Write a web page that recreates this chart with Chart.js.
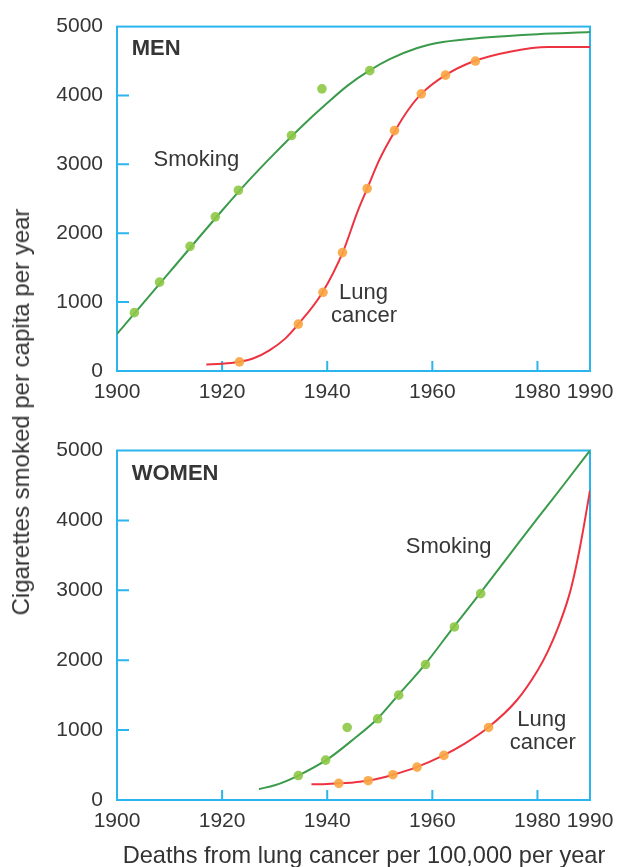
<!DOCTYPE html>
<html>
<head>
<meta charset="utf-8">
<script src="https://cdn.jsdelivr.net/npm/chart.js@4/dist/chart.umd.min.js"></script>
<style>
  html, body { margin: 0; padding: 0; background: #fff; width: 635px; height: 867px; overflow: hidden;
    font-family: "Liberation Sans", Arial, sans-serif; }
  .panel { position: absolute; left: 0; width: 635px; }
  #topPanel { top: 0; height: 420px; }
  #bottomPanel { top: 420px; height: 447px; }
  .ytitle { position: absolute; left: 21px; top: 412px; transform: translate(-50%, -50%) rotate(-90deg);
    white-space: nowrap; font-size: 24px; color: #333; }
  .xtitle { position: absolute; left: 364px; top: 855px; transform: translate(-50%, -50%);
    white-space: nowrap; font-size: 23.6px; color: #333; }
</style>
</head>
<body>
<div class="panel" id="topPanel"><canvas id="men"></canvas></div>
<div class="panel" id="bottomPanel"><canvas id="women"></canvas></div>
<div class="ytitle">Cigarettes smoked per capita per year</div>
<div class="xtitle">Deaths from lung cancer per 100,000 per year</div>
<script>
// Axis ticks
const xTickYears = [1900, 1920, 1940, 1960, 1980, 1990];
const xInnerTicks = [1920, 1940, 1960, 1980];
const yTickValues = [0, 1000, 2000, 3000, 4000, 5000];
const yInnerTicks = [1000, 2000, 3000, 4000];

// MEN: fitted smoking curve
const menSmokingFitYears = [1900, 1910, 1920, 1925, 1930, 1935, 1940, 1944, 1948, 1952, 1957, 1962, 1970, 1980, 1990];
const menSmokingFit      = [538, 1435, 2330, 2760, 3160, 3540, 3890, 4150, 4360, 4530, 4685, 4775, 4840, 4890, 4920];
// MEN: observed smoking points
const menSmokingObsYears = [1903.3, 1908.1, 1913.9, 1918.7, 1923.1, 1933.2, 1939.0, 1948.1];
const menSmokingObs      = [847, 1290, 1810, 2238, 2624, 3419, 4096, 4361];
// MEN: fitted lung cancer curve
const menCancerFitYears = [1917, 1920, 1923, 1926, 1929, 1932, 1934.5, 1939, 1943, 1945.7, 1947.6, 1950, 1953, 1955.5, 1958, 1962.5, 1968, 1975, 1982, 1990];
const menCancerFit      = [95, 105, 130, 185, 300, 470, 680, 1130, 1730, 2300, 2648, 3080, 3500, 3800, 4030, 4295, 4500, 4640, 4705, 4705];
// MEN: observed lung cancer points
const menCancerObsYears = [1923.3, 1934.5, 1939.2, 1942.9, 1947.6, 1952.8, 1957.9, 1962.5, 1968.2];
const menCancerObs      = [133, 681, 1143, 1719, 2648, 3490, 4024, 4295, 4500];

// WOMEN: fitted smoking curve
const womenSmokingFitYears = [1927, 1930, 1934.5, 1940, 1945, 1949.5, 1953.5, 1958.5, 1964, 1969, 1975, 1980, 1985, 1990];
const womenSmokingFit      = [157, 210, 350, 580, 870, 1160, 1500, 1930, 2470, 2950, 3540, 4030, 4510, 5000];
// WOMEN: observed smoking points
const womenSmokingObsYears = [1934.5, 1939.7, 1943.8, 1949.6, 1953.6, 1958.7, 1964.2, 1969.2];
const womenSmokingObs      = [350, 571, 1038, 1162, 1500, 1938, 2476, 2952];
// WOMEN: fitted lung cancer curve
const womenCancerFitYears = [1937, 1940, 1942, 1945, 1948, 1952.5, 1957, 1962, 1966, 1970.5, 1976, 1980, 1982, 1984, 1986, 1987, 1988, 1989, 1990];
const womenCancerFit      = [225, 230, 238, 252, 278, 360, 470, 635, 800, 1030, 1420, 1850, 2130, 2480, 2920, 3220, 3580, 3990, 4430];
// WOMEN: observed lung cancer points
const womenCancerObsYears = [1942.2, 1947.8, 1952.5, 1957.1, 1962.2, 1970.7];
const womenCancerObs      = [238, 276, 362, 471, 638, 1038];

const FRAME = '#2bb5ee';
const TEXT = '#363636';
const FONT = '"Liberation Sans", Arial, sans-serif';

function pts(xs, ys) { return xs.map((x, i) => ({ x: x, y: ys[i] })); }

function fitLine(xs, ys, color) {
  return { data: pts(xs, ys), showLine: true, borderColor: color, borderWidth: 2,
    pointRadius: 0, cubicInterpolationMode: 'monotone', fill: false, order: 2 };
}
function dots(xs, ys, color) {
  return { data: pts(xs, ys), showLine: false, pointRadius: 4.8, pointBackgroundColor: color,
    pointBorderWidth: 0, order: 1 };
}

// Plot frame plus inward tick marks
const framePlugin = {
  id: 'frame',
  beforeDatasetsDraw(chart) {
    const { ctx, chartArea: a, scales: { x, y } } = chart;
    ctx.save();
    ctx.strokeStyle = FRAME;
    ctx.lineWidth = 2;
    ctx.strokeRect(a.left, a.top, a.right - a.left, a.bottom - a.top);
    ctx.beginPath();
    xInnerTicks.forEach(v => { const px = x.getPixelForValue(v); ctx.moveTo(px, a.bottom); ctx.lineTo(px, a.bottom - 10); });
    yInnerTicks.forEach(v => { const py = y.getPixelForValue(v); ctx.moveTo(a.left, py); ctx.lineTo(a.left + 12, py); });
    ctx.stroke();
    ctx.restore();
  }
};

// In-plot text labels, positioned in data coordinates
const notesPlugin = {
  id: 'notes',
  afterDatasetsDraw(chart, args, opts) {
    const { ctx, scales: { x, y } } = chart;
    ctx.save();
    ctx.fillStyle = TEXT;
    ctx.textBaseline = 'middle';
    (opts.items || []).forEach(n => {
      ctx.font = (n.bold ? 'bold ' : '') + n.size + 'px ' + FONT;
      ctx.textAlign = n.align || 'center';
      ctx.fillText(n.text, x.getPixelForValue(n.x), y.getPixelForValue(n.y));
    });
    ctx.restore();
  }
};

function makePanel(id, datasets, notes, padTop, xAxisHeight) {
  return new Chart(document.getElementById(id), {
    type: 'scatter',
    data: { datasets: datasets },
    plugins: [framePlugin, notesPlugin],
    options: {
      responsive: true, maintainAspectRatio: false, animation: false,
      layout: { padding: { top: padTop, right: 45, left: 0, bottom: 0 } },
      plugins: { legend: { display: false }, tooltip: { enabled: false }, notes: { items: notes } },
      scales: {
        x: {
          type: 'linear', min: 1900, max: 1990,
          afterBuildTicks: s => { s.ticks = xTickYears.map(v => ({ value: v })); },
          afterFit: s => { s.height = xAxisHeight; },
          grid: { display: false, drawTicks: false }, border: { display: false },
          ticks: { autoSkip: false, maxRotation: 0, padding: 9, color: TEXT,
            font: { family: FONT, size: 21 }, callback: v => String(v) }
        },
        y: {
          type: 'linear', min: 0, max: 5000,
          afterBuildTicks: s => { s.ticks = yTickValues.map(v => ({ value: v })); },
          afterFit: s => { s.width = 117; },
          grid: { display: false, drawTicks: false }, border: { display: false },
          ticks: { padding: 14, color: TEXT, font: { family: FONT, size: 21 }, callback: v => String(v) }
        }
      }
    }
  });
}

const GREEN_LINE = '#3b9b4b';
const RED_LINE = '#ee3340';
const GREEN_DOT = 'rgba(141,200,70,0.9)';
const ORANGE_DOT = 'rgba(250,165,65,0.9)';

makePanel('men', [
  fitLine(menSmokingFitYears, menSmokingFit, GREEN_LINE),
  fitLine(menCancerFitYears, menCancerFit, RED_LINE),
  dots(menSmokingObsYears, menSmokingObs, GREEN_DOT),
  dots(menCancerObsYears, menCancerObs, ORANGE_DOT)
], [
  { text: 'MEN', x: 1902.8, y: 4682, size: 22, bold: true, align: 'left' },
  { text: 'Smoking', x: 1915.1, y: 3070, size: 22 },
  { text: 'Lung', x: 1946.9, y: 1133, size: 22 },
  { text: 'cancer', x: 1947.0, y: 803, size: 22 }
], 22.5, 49);

makePanel('women', [
  fitLine(womenSmokingFitYears, womenSmokingFit, GREEN_LINE),
  fitLine(womenCancerFitYears, womenCancerFit, RED_LINE),
  dots(womenSmokingObsYears, womenSmokingObs, GREEN_DOT),
  dots(womenCancerObsYears, womenCancerObs, ORANGE_DOT)
], [
  { text: 'WOMEN', x: 1902.8, y: 4668, size: 22, bold: true, align: 'left' },
  { text: 'Smoking', x: 1963.1, y: 3615, size: 22 },
  { text: 'Lung', x: 1980.8, y: 1144, size: 22 },
  { text: 'cancer', x: 1981.0, y: 820, size: 22 }
], 30.5, 67);
</script>
</body>
</html>
